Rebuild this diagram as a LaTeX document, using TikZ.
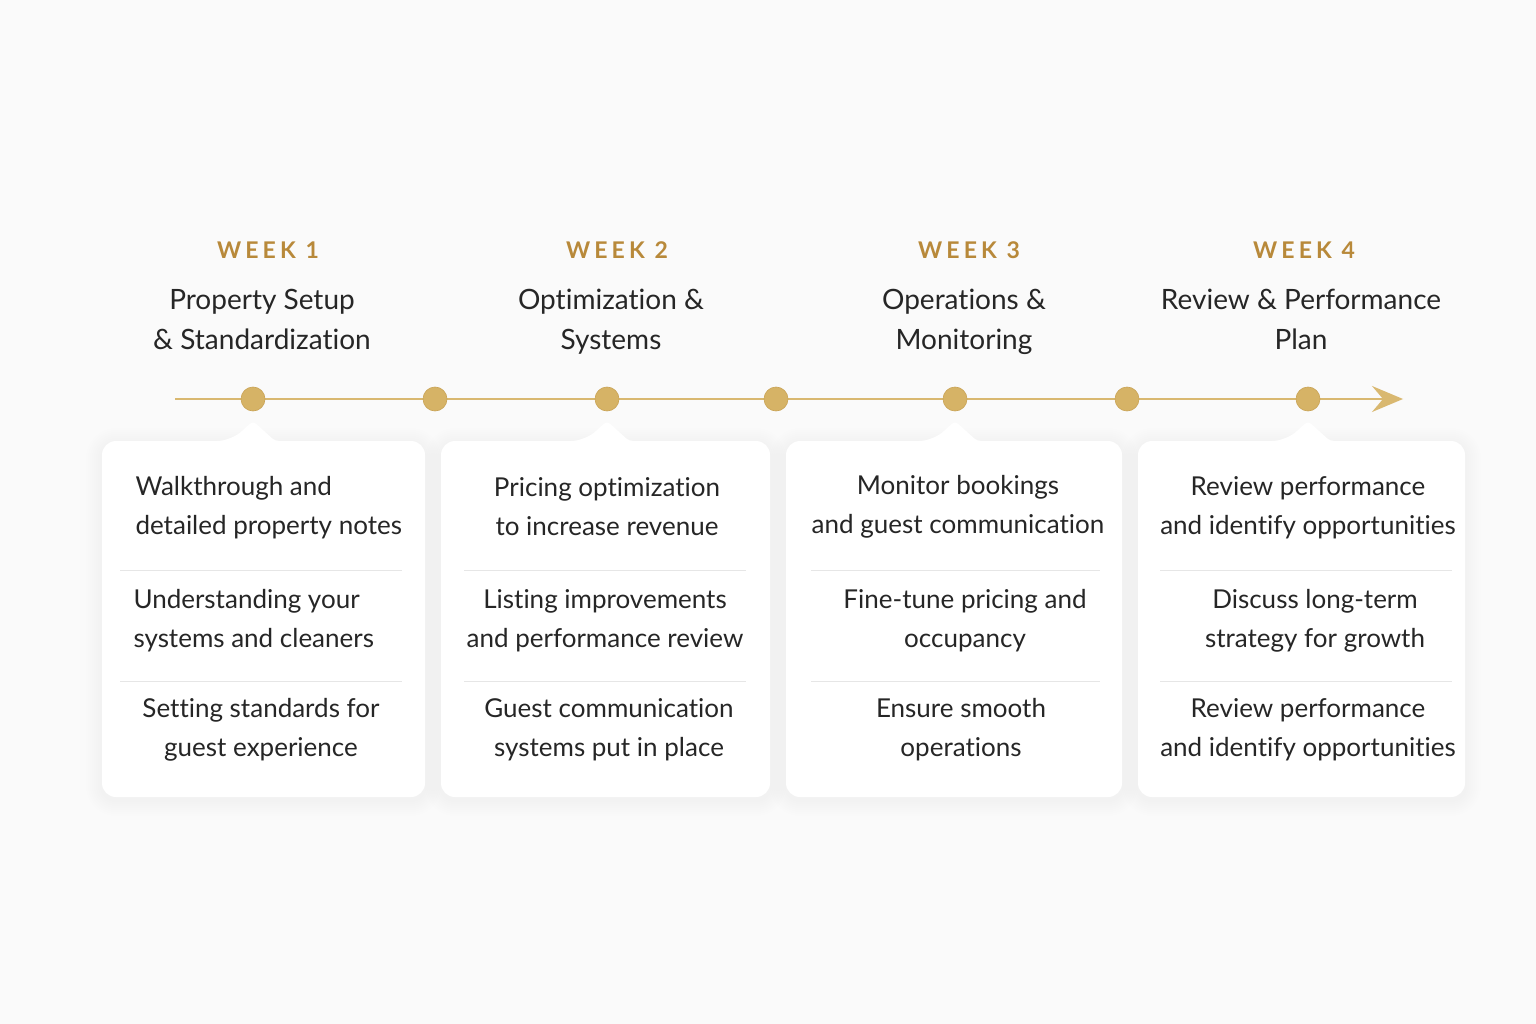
\documentclass[tikz,border=0pt]{standalone}
\usepackage{fontspec}
\setmainfont{Lato}[Ligatures=NoCommon]
\newfontfamily\weekfont{Lato}[LetterSpace=18]
\usetikzlibrary{arrows.meta}

\definecolor{gold}{HTML}{B8893A}
\definecolor{dotgold}{HTML}{D6B366}
\definecolor{dotedge}{HTML}{C9A355}
\definecolor{linegold}{HTML}{D9B870}
\definecolor{ink}{HTML}{262626}
\definecolor{rulegray}{HTML}{E6E6E6}
\definecolor{paper}{HTML}{FAFAFA}

% card with soft shadow and a notch under the week dot
\newcommand\weekcard[3]{%
  \foreach \s in {2,4,...,16}
    \fill[black,opacity=0.005,rounded corners={14pt+\s pt}]
      ({#1-\s},{441-\s+3}) rectangle ({#2+\s},{797+\s+3});
  \fill[white,rounded corners=14pt] (#1,797) -- (#1,441) -- ({#3-22},441)
    [rounded corners=4pt] -- (#3,421) -- ({#3+22},441)
    [rounded corners=14pt] -- (#2,441) -- (#2,797) -- cycle;}

\begin{document}
\begin{tikzpicture}[x=1pt,y=-1pt]
  \tikzset{
    weeklabel/.style={text=gold,font=\weekfont\fontsize{23}{26}\selectfont\bfseries},
    phase/.style={text=ink,align=center,font=\fontsize{28}{40}\selectfont},
    task/.style={text=ink,align=center,font=\fontsize{26}{39}\selectfont},
    tasklft/.style={task,align=left,anchor=west},
    sep/.style={draw=rulegray,line width=1pt},
    timeline/.style={draw=linegold,line width=1.5pt,
      -{Stealth[length=31pt,width=26pt,inset=11pt]}},
    weekdot/.style={circle,fill=dotgold,draw=dotedge,line width=0.6pt,
      minimum size=24pt,inner sep=0pt}
  }

  \fill[paper] (0,0) rectangle (1536,1024);
  \useasboundingbox (0,0) rectangle (1536,1024);

  % cards
  \weekcard{102}{425}{253}
  \weekcard{441}{770}{607}
  \weekcard{786}{1122}{955}
  \weekcard{1138}{1465}{1308}

  % timeline
  \coordinate (tl start) at (175,399);
  \coordinate (tl end) at (1403,399);
  \draw[timeline] (tl start) -- (tl end);
  \foreach \x [count=\i] in {253,435,607,776,955,1127,1308}
    \node[weekdot] (dot\i) at (\x,399) {};

  % headings
  \node[weeklabel] (week1) at (268,250) {WEEK 1};
  \node[weeklabel] (week2) at (617,250) {WEEK 2};
  \node[weeklabel] (week3) at (969,250) {WEEK 3};
  \node[weeklabel] (week4) at (1304,250) {WEEK 4};

  \node[phase] (phase1) at (262,319) {Property Setup\\\& Standardization};
  \node[phase] (phase2) at (611,322) {Optimization \&\\Systems};
  \node[phase] (phase3) at (964,322) {Operations \&\\Monitoring};
  \node[phase] (phase4) at (1301,319) {Review \& Performance\\Plan};

  % week 1
  \node[tasklft] (task11) at (132,508) {Walkthrough and\\detailed property notes};
  \node[tasklft] (task12) at (130,621) {Understanding your\\systems and cleaners};
  \node[task] (task13) at (261,730) {Setting standards for\\guest experience};
  \draw[sep] (120,570) -- (402,570);
  \draw[sep] (120,681) -- (402,681);

  % week 2
  \node[task] (task21) at (607,507) {Pricing optimization\\to increase revenue};
  \node[task] (task22) at (605,621) {Listing improvements\\and performance review};
  \node[task] (task23) at (609,730) {Guest communication\\systems put in place};
  \draw[sep] (464,570) -- (746,570);
  \draw[sep] (464,681) -- (746,681);

  % week 3
  \node[task] (task31) at (958,507) {Monitor bookings\\and guest communication};
  \node[task] (task32) at (965,621) {Fine-tune pricing and\\occupancy};
  \node[task] (task33) at (961,730) {Ensure smooth\\operations};
  \draw[sep] (811,570) -- (1100,570);
  \draw[sep] (811,681) -- (1100,681);

  % week 4
  \node[task] (task41) at (1308,508) {Review performance\\and identify opportunities};
  \node[task] (task42) at (1315,621) {Discuss long-term\\strategy for growth};
  \node[task] (task43) at (1308,730) {Review performance\\and identify opportunities};
  \draw[sep] (1160,570) -- (1452,570);
  \draw[sep] (1160,681) -- (1452,681);
\end{tikzpicture}
\end{document}
